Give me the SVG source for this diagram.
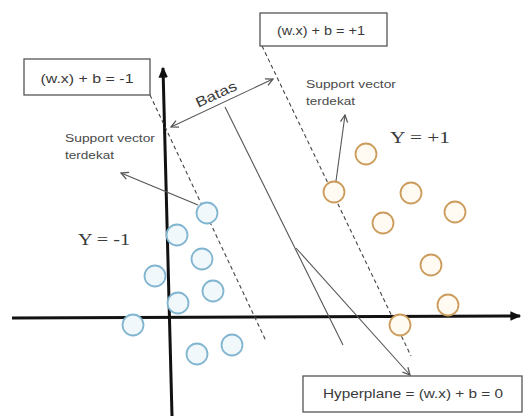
<svg xmlns="http://www.w3.org/2000/svg" width="526" height="416" viewBox="0 0 526 416">
<style>
.box{fill:#fff;stroke:#555;stroke-width:1.3}
.lbl{font-family:"Liberation Sans",Arial,sans-serif;font-size:12px;fill:#3a3a3a}
.big{font-size:14px}
.sm{font-family:"Liberation Sans",Arial,sans-serif;font-size:10px;fill:#4a4a4a}
.y{font-family:"Liberation Serif","Times New Roman",serif;font-size:16px;fill:#3a3a3a}
.axis{stroke:#111;stroke-width:3;fill:none}
.dash{stroke:#444;stroke-width:1.1;stroke-dasharray:4 3;fill:none}
.thin{stroke:#555;stroke-width:1.1;fill:none}
.blue{fill:#f1f8fc;stroke:#82b5d0;stroke-width:1.8}
.orange{fill:#fffaf2;stroke:#cc9c5c;stroke-width:1.8}
</style>
<defs>
<marker id="ah" viewBox="0 0 10 10" refX="9" refY="5" markerWidth="9" markerHeight="9" markerUnits="userSpaceOnUse" orient="auto-start-reverse">
<path d="M1,1 L9,5 L1,9" fill="none" stroke="#555" stroke-width="1.4"/>
</marker>
<marker id="axh" viewBox="0 0 10 10" refX="8" refY="5" markerWidth="4" markerHeight="4" orient="auto">
<path d="M0,1 L9,5 L0,9 Z" fill="#111"/>
</marker>
</defs>
<rect width="526" height="416" fill="#fff"/>
<g id="connectors">
<line class="axis" x1="12" y1="318" x2="520" y2="316" marker-end="url(#axh)"/>
<line class="axis" x1="172" y1="416" x2="163" y2="68" marker-end="url(#axh)"/>
<line class="dash" x1="150" y1="95" x2="266" y2="341"/>
<line class="dash" x1="262" y1="46" x2="411" y2="356"/>
<line class="thin" x1="225" y1="107" x2="343" y2="345"/>
<line class="thin" x1="296" y1="248" x2="410" y2="375" marker-end="url(#ah)"/>
<line class="thin" x1="171" y1="127" x2="273" y2="79" marker-start="url(#ah)" marker-end="url(#ah)"/>
<line class="thin" x1="198" y1="205" x2="121" y2="173" marker-end="url(#ah)"/>
<line class="thin" x1="336" y1="181" x2="345" y2="115" marker-end="url(#ah)"/>
</g>
<g id="box-minus">
<rect class="box" x="24" y="59" width="126" height="36"/>
<text class="lbl" x="87" y="83" text-anchor="middle" textLength="93" lengthAdjust="spacingAndGlyphs">(w.x) + b = -1</text>
</g>
<g id="box-plus">
<rect class="box" x="260" y="13" width="127" height="33"/>
<text class="lbl" x="321" y="35" text-anchor="middle" textLength="88" lengthAdjust="spacingAndGlyphs">(w.x) + b = +1</text>
</g>
<g id="box-hyperplane">
<rect class="box" x="303" y="376" width="219" height="36"/>
<text class="lbl" x="413" y="398" text-anchor="middle" textLength="180" lengthAdjust="spacingAndGlyphs">Hyperplane = (w.x) + b = 0</text>
</g>
<g id="label-batas">
<text class="lbl big" x="216" y="99" text-anchor="middle" transform="rotate(-25 216 94)" textLength="44" lengthAdjust="spacingAndGlyphs">Batas</text>
</g>
<g id="label-sv-left">
<text class="sm" x="65" y="142" textLength="90" lengthAdjust="spacingAndGlyphs">Support vector</text>
<text class="sm" x="65" y="159" textLength="49" lengthAdjust="spacingAndGlyphs">terdekat</text>
</g>
<g id="label-sv-right">
<text class="sm" x="306" y="88" textLength="90" lengthAdjust="spacingAndGlyphs">Support vector</text>
<text class="sm" x="306" y="105" textLength="49" lengthAdjust="spacingAndGlyphs">terdekat</text>
</g>
<g id="label-yminus"><text class="y" x="78" y="245" textLength="52" lengthAdjust="spacingAndGlyphs">Y = -1</text></g>
<g id="label-yplus"><text class="y" x="390" y="143" textLength="60" lengthAdjust="spacingAndGlyphs">Y = +1</text></g>
<g id="blue-points">
<circle class="blue" cx="207" cy="213" r="10.5"/>
<circle class="blue" cx="177" cy="235" r="10.5"/>
<circle class="blue" cx="202" cy="259" r="10.5"/>
<circle class="blue" cx="155" cy="276" r="10.5"/>
<circle class="blue" cx="213" cy="291" r="10.5"/>
<circle class="blue" cx="178" cy="303" r="10.5"/>
<circle class="blue" cx="133" cy="325" r="10.5"/>
<circle class="blue" cx="197" cy="354" r="10.5"/>
<circle class="blue" cx="232" cy="345" r="10.5"/>
</g>
<g id="orange-points">
<circle class="orange" cx="366" cy="154" r="10.5"/>
<circle class="orange" cx="334" cy="192" r="10.5"/>
<circle class="orange" cx="411" cy="193" r="10.5"/>
<circle class="orange" cx="455" cy="212" r="10.5"/>
<circle class="orange" cx="383" cy="223" r="10.5"/>
<circle class="orange" cx="431" cy="265" r="10.5"/>
<circle class="orange" cx="448" cy="305" r="10.5"/>
<circle class="orange" cx="400" cy="325" r="10.5"/>
</g>
</svg>
